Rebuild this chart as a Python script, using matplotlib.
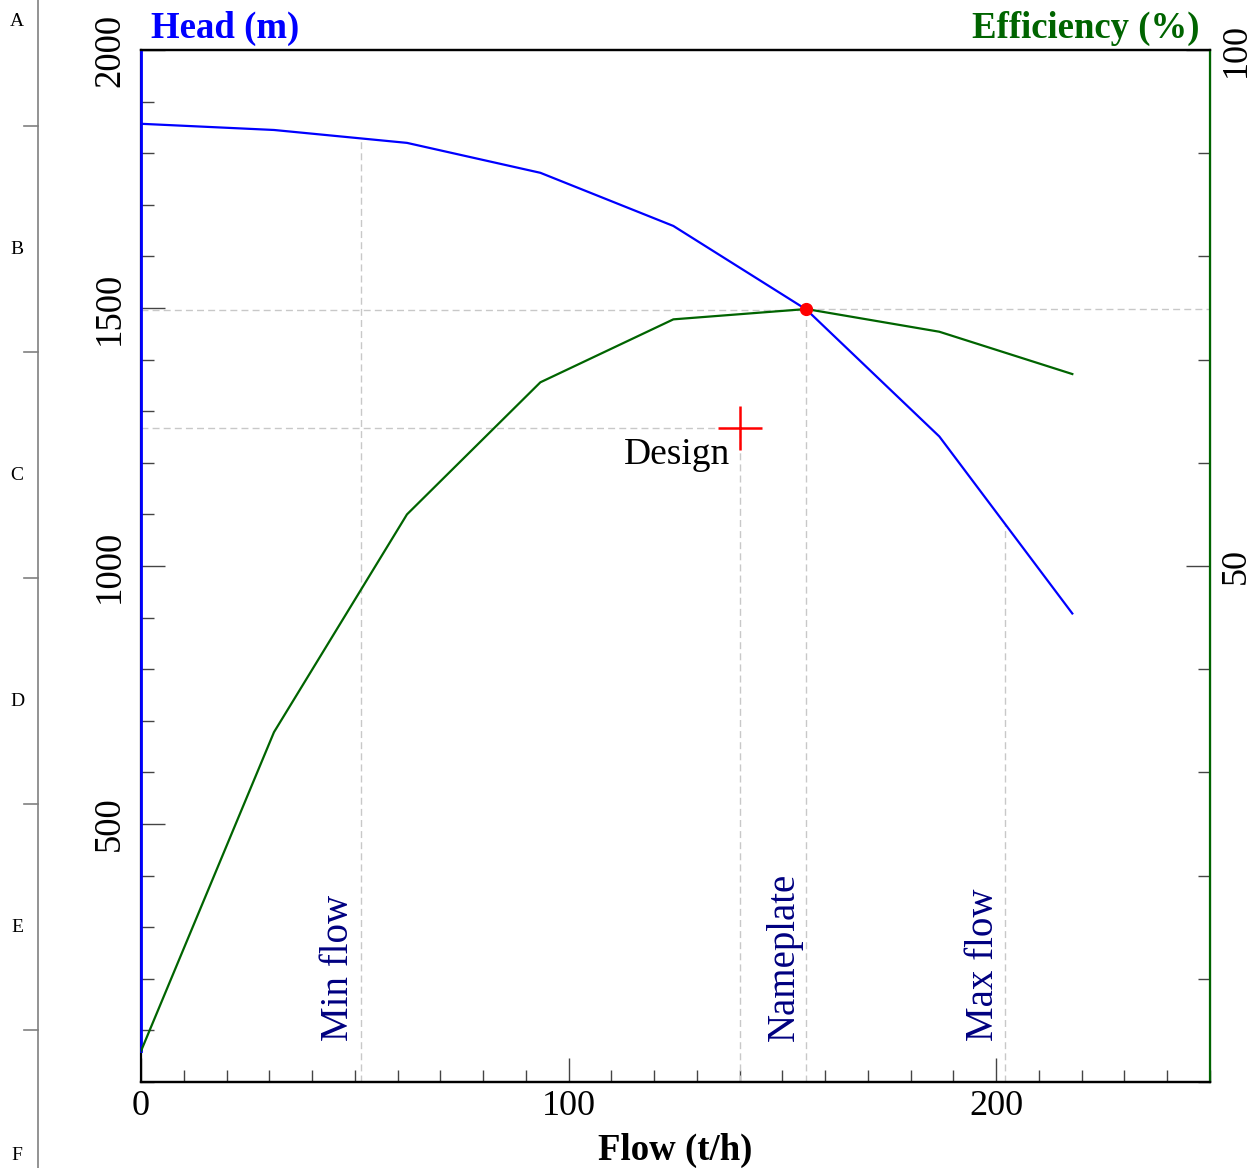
import matplotlib
matplotlib.use("Agg")
import matplotlib.pyplot as plt
import numpy as np
from matplotlib.ticker import MultipleLocator

plt.rcParams['font.family'] = ['Liberation Serif', 'DejaVu Serif']

# ---- data ----
flow = [0, 31.1, 62.2, 93.4, 124.5, 155.6, 186.7, 217.8]
head = [1857, 1845, 1820, 1762, 1659, 1497, 1251, 908]
eff = [3.0, 33.9, 55.0, 67.8, 73.9, 74.9, 72.7, 68.6]

nameplate_flow = 155.6
nameplate_head = 1497
nameplate_eff = 74.9
design_flow = 140
design_head = 1268
min_flow = 51.4
max_flow = 202.1

border_letters = ["A", "B", "C", "D", "E", "F"]

# ---- figure ----
W, H = 1254, 1168
fig = plt.figure(figsize=(W / 100, H / 100), dpi=100)
ax = fig.add_axes([141 / W, 1 - 1082 / H, (1210 - 141) / W, (1082 - 50) / H])
ax2 = ax.twinx()

BLUE = '#0000ff'
GREEN = '#006400'
NAVY = '#000080'
GRID = '#c8c8c8'
dash = (0, (5, 3))

ax.set_xlim(0, 250)
ax.set_ylim(0, 2000)
ax2.set_ylim(0, 100)

# reference lines
hmin = np.interp(min_flow, flow, head)
hmax = np.interp(max_flow, flow, head)
ax.plot([min_flow, min_flow], [0, hmin], color=GRID, ls=dash, lw=1)
ax.plot([max_flow, max_flow], [0, hmax], color=GRID, ls=dash, lw=1)
ax.plot([design_flow, design_flow], [0, design_head], color=GRID, ls=dash, lw=1)
ax.plot([0, design_flow], [design_head, design_head], color=GRID, ls=dash, lw=1)
ax.plot([nameplate_flow, nameplate_flow], [0, nameplate_head], color=GRID, ls=dash, lw=1)
ax.plot([0, nameplate_flow], [nameplate_head, nameplate_head], color=GRID, ls=dash, lw=1)
ax2.plot([nameplate_flow, 250], [nameplate_eff, nameplate_eff], color=GRID, ls=dash, lw=1)

# curves
ax.plot(flow, head, color=BLUE, lw=1.6, zorder=3)
ax2.plot(flow, eff, color=GREEN, lw=1.6, zorder=3)
ax2.plot([nameplate_flow], [nameplate_eff], 'o', color='red', ms=8.5, zorder=5)
ax.plot([design_flow], [design_head], '+', color='red', ms=31, mew=1.8, zorder=5)

# annotations
ax.text(design_flow - 2.3, design_head - 18, "Design", ha='right', va='top', fontsize=27, color='black')
for fx, lab in [(min_flow, "Min flow"), (nameplate_flow, "Nameplate"), (max_flow, "Max flow")]:
    ax.text(fx - 0.8, 80, lab, rotation=90, ha='right', va='bottom', fontsize=28, color=NAVY)

# spines
for a in (ax, ax2):
    a.spines['top'].set_color('black')
    a.spines['bottom'].set_color('black')
    a.spines['top'].set_linewidth(1.6)
    a.spines['bottom'].set_linewidth(1.6)
ax.spines['left'].set_color('black')
ax.spines['left'].set_linewidth(1.6)
ax2.spines['left'].set_visible(False)
ax2.spines['right'].set_color(GREEN)
ax2.spines['right'].set_linewidth(1.6)
ax.axvline(0, ymin=eff[0] / 100, ymax=1, color=BLUE, lw=2.0, clip_on=False, zorder=6)

# ticks
ax.xaxis.set_major_locator(MultipleLocator(100))
ax.xaxis.set_minor_locator(MultipleLocator(10))
ax.yaxis.set_major_locator(MultipleLocator(500))
ax.yaxis.set_minor_locator(MultipleLocator(100))
ax2.yaxis.set_major_locator(MultipleLocator(50))
ax2.yaxis.set_minor_locator(MultipleLocator(10))

ax.tick_params(axis='x', which='major', direction='in', length=17, width=1, color='#444444',
               labelsize=26, pad=6, top=False)
ax.tick_params(axis='x', which='minor', direction='in', length=9, width=1, color='#444444', top=False)
ax.tick_params(axis='y', which='major', direction='in', length=17, width=1, color='#444444',
               labelsize=26.5, pad=10, labelrotation=90)
ax.tick_params(axis='y', which='minor', direction='in', length=9, width=1, color='#444444')
ax2.tick_params(axis='y', which='major', direction='in', length=17, width=1, color='#444444',
                labelsize=26, pad=7, labelrotation=90)
ax2.tick_params(axis='y', which='minor', direction='in', length=9, width=1, color='#444444')

ax.set_xticks([0, 100, 200])
ax.set_yticks([500, 1000, 1500, 2000])
ax2.set_yticks([50, 100])
for lab in ax.get_yticklabels():
    lab.set_va('center')
for lab in ax2.get_yticklabels():
    lab.set_va('center')

# axis titles
fig.text(151 / W, 1 - 38 / H, "Head (m)", color=BLUE, fontsize=26.5, fontweight='bold', ha='left', va='baseline')
fig.text(1200 / W, 1 - 38 / H, "Efficiency (%)", color=GREEN, fontsize=26.5, fontweight='bold', ha='right', va='baseline')
fig.text(675.5 / W, 1 - 1160 / H, "Flow (t/h)", color='black', fontsize=26.5, fontweight='bold', ha='center', va='baseline')

# drawing-border letters
fig.add_artist(plt.Line2D([38 / W, 38 / W], [0, 1], color='#808080', lw=1.2))
letter_y = [22, 250, 476, 702, 928, 1155]
for L, yy in zip(border_letters, letter_y):
    fig.text(17 / W, 1 - yy / H, L, fontsize=14, ha='center', va='center', color='black')
for k in range(5):
    yk = 126 + k * 226
    fig.add_artist(plt.Line2D([24 / W, 38 / W], [1 - yk / H, 1 - yk / H], color='#808080', lw=1.2))

fig.savefig("out.png", dpi=100)
